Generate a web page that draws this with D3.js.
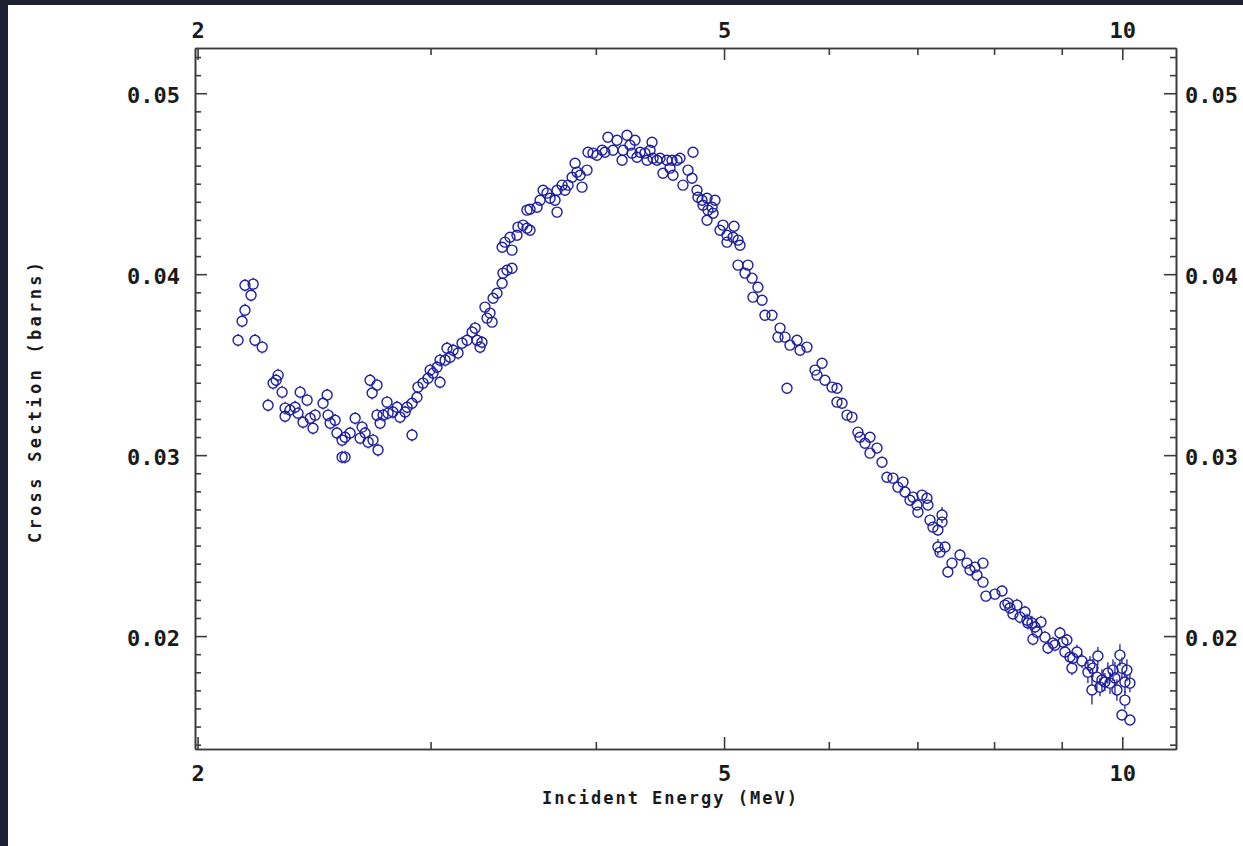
<!DOCTYPE html>
<html><head><meta charset="utf-8">
<script src="https://cdn.jsdelivr.net/npm/d3@7"></script>
<style>
html,body{margin:0;padding:0;background:#1b2130;overflow:hidden}
svg{display:block}
text{font-family:"DejaVu Sans Mono",monospace;font-weight:bold;fill:#1a1a1a}
</style></head><body>
<svg id="c" width="1243" height="846"></svg>
<script>
const energy=[
2.146,2.161,2.172,2.172,2.195,2.203,2.210,2.238,2.261,2.281,
2.293,2.301,2.317,2.329,2.329,2.349,2.370,2.382,2.391,2.403,
2.420,2.433,2.445,2.454,2.488,2.506,2.510,2.519,2.541,2.549,
2.572,2.572,2.585,2.585,2.608,2.631,2.654,2.663,2.677,2.691,
2.700,2.710,2.714,2.733,2.733,2.738,2.748,2.762,2.781,2.786,
2.810,2.830,2.845,2.870,2.880,2.905,2.905,2.930,2.935,2.961,
2.987,2.998,3.013,3.034,3.050,3.050,3.077,3.087,3.104,3.120,
3.147,3.169,3.197,3.225,3.242,3.253,3.270,3.281,
3.298,3.310,3.327,3.339,3.345,3.368,3.398,3.403,3.427,3.457,
3.398,3.415,3.445,3.457,3.487,3.493,3.524,3.548,3.567,3.548,
3.567,3.611,3.630,3.649,3.674,3.694,3.726,3.739,3.739,3.772,
3.791,3.811,3.838,3.858,3.871,3.892,3.905,3.939,3.946,3.980,
4.008,4.044,4.064,4.085,4.121,4.150,4.187,4.194,4.223,4.245,
4.260,4.282,4.297,4.320,4.357,4.373,4.396,4.411,4.419,4.449,
4.473,4.496,4.527,4.551,4.567,4.575,4.607,4.631,4.655,4.696,
4.729,4.737,4.770,4.778,4.812,4.820,4.854,4.862,4.897,4.922,
4.905,4.854,4.965,4.991,5.026,5.088,5.026,5.079,5.123,5.141,
5.123,5.186,5.212,5.250,5.304,5.258,5.342,5.369,5.435,5.512,
5.492,5.560,5.608,5.677,5.707,5.776,5.579,5.858,5.878,5.930,
5.960,6.034,6.086,6.086,6.140,6.193,6.247,6.312,6.335,6.390,
6.446,6.446,6.525,6.582,6.639,6.709,6.767,6.827,6.851,6.911,
6.947,6.995,7.007,7.057,7.118,7.130,7.156,7.193,7.255,7.307,
7.307,7.255,7.345,7.281,7.382,7.435,7.539,7.631,7.671,7.738,
7.765,7.847,7.847,7.887,8.012,8.111,8.153,8.195,8.224,8.267,
8.325,8.369,8.442,8.471,8.485,8.545,8.590,8.560,8.619,8.680,
8.741,8.786,8.863,8.894,8.972,9.019,9.081,9.050,9.130,9.177,
9.241,9.161,9.322,9.453,9.419,9.502,9.486,9.568,9.584,9.619,
9.652,9.702,9.752,9.788,9.839,9.873,9.907,9.959,9.994,10.046,
10.081,10.134,10.046,9.994,10.134];

const crossSection=[
0.03635,0.03740,0.03801,0.03939,0.03884,0.03945,0.03635,0.03597,0.03276,0.03398,
0.03414,0.03442,0.03348,0.03260,0.03215,0.03249,0.03265,0.03232,0.03348,0.03182,
0.03304,0.03204,0.03149,0.03221,0.03287,0.03332,0.03221,0.03177,0.03193,0.03122,
0.03083,0.02989,0.03099,0.02989,0.03122,0.03204,0.03094,0.03155,0.03122,0.03072,
0.03414,0.03343,0.03083,0.03387,0.03221,0.03028,0.03177,0.03221,0.03293,0.03232,
0.03238,0.03265,0.03210,0.03238,0.03265,0.03287,0.03111,0.03320,0.03376,0.03398,
0.03425,0.03470,0.03453,0.03486,0.03525,0.03403,0.03525,0.03591,0.03541,0.03580,
0.03564,0.03619,0.03635,0.03680,0.03702,0.03635,0.03597,0.03624,
0.03818,0.03757,0.03785,0.03735,0.03867,0.03895,0.03950,0.04006,0.04022,0.04033,
0.04149,0.04177,0.04204,0.04133,0.04215,0.04260,0.04271,0.04254,0.04243,0.04354,
0.04359,0.04370,0.04409,0.04464,0.04448,0.04420,0.04409,0.04343,0.04464,0.04492,
0.04464,0.04492,0.04536,0.04613,0.04564,0.04547,0.04481,0.04575,0.04674,0.04669,
0.04657,0.04685,0.04674,0.04757,0.04685,0.04740,0.04630,0.04685,0.04768,0.04713,
0.04669,0.04740,0.04646,0.04674,0.04669,0.04630,0.04685,0.04729,0.04641,0.04630,
0.04641,0.04558,0.04630,0.04586,0.04630,0.04547,0.04630,0.04641,0.04492,0.04575,
0.04530,0.04674,0.04464,0.04425,0.04409,0.04381,0.04420,0.04354,0.04370,0.04409,
0.04337,0.04298,0.04243,0.04271,0.04215,0.04265,0.04177,0.04204,0.04188,0.04160,
0.04050,0.04006,0.04050,0.03978,0.03928,0.03873,0.03856,0.03773,0.03773,0.03702,
0.03652,0.03652,0.03608,0.03635,0.03580,0.03597,0.03370,0.03470,0.03442,0.03508,
0.03414,0.03376,0.03370,0.03293,0.03287,0.03221,0.03210,0.03127,0.03099,0.03066,
0.03099,0.03011,0.03039,0.02961,0.02878,0.02873,0.02823,0.02851,0.02796,0.02751,
0.02768,0.02724,0.02685,0.02779,0.02762,0.02724,0.02641,0.02602,0.02586,0.02630,
0.02669,0.02492,0.02492,0.02464,0.02354,0.02403,0.02448,0.02403,0.02365,0.02381,
0.02337,0.02403,0.02298,0.02221,0.02232,0.02249,0.02171,0.02182,0.02155,0.02122,
0.02171,0.02105,0.02133,0.02088,0.02072,0.02072,0.02050,0.01983,0.02022,0.02077,
0.01994,0.01934,0.01961,0.01950,0.02017,0.01967,0.01978,0.01912,0.01884,0.01878,
0.01912,0.01823,0.01862,0.01840,0.01801,0.01823,0.01702,0.01773,0.01890,0.01718,
0.01757,0.01746,0.01796,0.01740,0.01812,0.01768,0.01702,0.01895,0.01823,0.01746,
0.01812,0.01740,0.01646,0.01564,0.01536];

const errors=[
0.00035,0.00035,0.00035,0.00035,0.00035,0.00035,0.00035,0.00035,0.00035,0.00035,
0.00035,0.00035,0.00035,0.00035,0.00035,0.00035,0.00035,0.00035,0.00035,0.00035,
0.00035,0.00035,0.00035,0.00035,0.00035,0.00035,0.00035,0.00035,0.00035,0.00035,
0.00035,0.00035,0.00035,0.00035,0.00035,0.00035,0.00035,0.00035,0.00035,0.00035,
0.00035,0.00035,0.00035,0.00035,0.00035,0.00035,0.00035,0.00035,0.00035,0.00035,
0.00035,0.00035,0.00035,0.00035,0.00035,0.00035,0.00035,0.00035,0.00035,0.00035,
0.00035,0.00035,0.00035,0.00035,0.00035,0.00035,0.00035,0.00035,0.00035,0.00035,
0.00035,0.00035,0.00035,0.00035,0.00035,0.00035,0.00035,0.00035,
0.00025,0.00025,0.00025,0.00025,0.00025,0.00025,0.00025,0.00025,0.00025,0.00025,
0.00025,0.00025,0.00025,0.00025,0.00025,0.00025,0.00025,0.00025,0.00025,0.00025,
0.00025,0.00025,0.00025,0.00025,0.00025,0.00025,0.00025,0.00025,0.00025,0.00025,
0.00025,0.00025,0.00025,0.00025,0.00025,0.00025,0.00025,0.00025,0.00025,0.00025,
0.00025,0.00025,0.00025,0.00025,0.00025,0.00025,0.00025,0.00025,0.00025,0.00025,
0.00025,0.00025,0.00025,0.00025,0.00025,0.00025,0.00025,0.00025,0.00025,0.00025,
0.00025,0.00025,0.00025,0.00025,0.00025,0.00025,0.00025,0.00025,0.00025,0.00025,
0.00025,0.00025,0.00025,0.00025,0.00025,0.00025,0.00025,0.00025,0.00025,0.00025,
0.00025,0.00025,0.00025,0.00025,0.00025,0.00025,0.00025,0.00025,0.00025,0.00025,
0.00025,0.00025,0.00025,0.00025,0.00025,0.00025,0.00025,0.00025,0.00025,0.00025,
0.00025,0.00025,0.00025,0.00025,0.00025,0.00025,0.00025,0.00025,0.00025,0.00025,
0.00025,0.00025,0.00025,0.00025,0.00025,0.00025,0.00025,0.00025,0.00025,0.00025,
0.00025,0.00025,0.0003,0.0003,0.0003,0.0003,0.0003,0.0003,0.0003,0.0003,
0.0003,0.0003,0.0003,0.0003,0.0003,0.0003,0.0003,0.0003,0.0003,0.0003,
0.00045,0.00045,0.0003,0.0003,0.0003,0.0003,0.0003,0.0003,0.0003,0.0003,
0.0003,0.0003,0.0003,0.0003,0.0003,0.0003,0.0003,0.0003,0.0003,0.0003,
0.00035,0.00035,0.00035,0.00035,0.00035,0.0004,0.00035,0.00035,0.00035,0.00035,
0.00035,0.00035,0.00035,0.00035,0.00035,0.00035,0.00035,0.00035,0.00035,0.00035,
0.0004,0.0004,0.0004,0.0005,0.0006,0.0005,0.0008,0.0006,0.0005,0.0005,
0.0006,0.0005,0.0006,0.0006,0.0006,0.0009,0.0006,0.0006,0.0006,0.0006,
0.0006,0.0005,0.0005];

const xMajorTicks=[2,5,10];
const xMinorTicks=[3,4,6,7,8,9];
const yMajorTicks=[0.02,0.03,0.04,0.05];
const yMinorTicks=[0.014,0.015,0.016,0.017,0.018,0.019,0.021,0.022,0.023,0.024,0.025,0.026,0.027,0.028,0.029,
0.031,0.032,0.033,0.034,0.035,0.036,0.037,0.038,0.039,0.041,0.042,0.043,0.044,0.045,0.046,0.047,0.048,0.049,0.051,0.052];
const xTitle="Incident Energy (MeV)";
const yTitle="Cross Section (barns)";

const svg=d3.select("#c");
svg.append("rect").attr("x",8).attr("y",5).attr("width",1235).attr("height",841).attr("fill","#ffffff");

const L=195,R=1176,T=48,B=749;
const x=d3.scaleLog().domain([1.991,10.98]).range([L,R]);
const y=d3.scaleLinear().domain([0.01376,0.0525]).range([B,T]);
const axisColor="#3c3c3c";

function style(g){
  g.selectAll("path,line").attr("stroke",axisColor).attr("stroke-width",1.6);
  g.selectAll("text").attr("fill","#1a1a1a").attr("font-size",22).attr("font-family",null);
}
const fmtX=d3.format("d");
const fmtY=d=>d.toFixed(2);

// bottom
svg.append("g").attr("transform",`translate(0,${B})`)
  .call(d3.axisBottom(x).tickValues(xMajorTicks).tickFormat(fmtX).tickSizeInner(-12).tickSizeOuter(0).tickPadding(16)).call(style);
svg.append("g").attr("transform",`translate(0,${B})`)
  .call(d3.axisBottom(x).tickValues(xMinorTicks).tickFormat("").tickSizeInner(-7).tickSizeOuter(0)).call(style);
// top
svg.append("g").attr("transform",`translate(0,${T})`)
  .call(d3.axisTop(x).tickValues(xMajorTicks).tickFormat(fmtX).tickSizeInner(-12).tickSizeOuter(0).tickPadding(10)).call(style);
svg.append("g").attr("transform",`translate(0,${T})`)
  .call(d3.axisTop(x).tickValues(xMinorTicks).tickFormat("").tickSizeInner(-7).tickSizeOuter(0)).call(style);
// left
const gl=svg.append("g").attr("transform",`translate(${L},0)`)
  .call(d3.axisLeft(y).tickValues(yMajorTicks).tickFormat(fmtY).tickSizeInner(-12).tickSizeOuter(0).tickPadding(15)).call(style);
gl.selectAll("text").attr("dy","0.41em");
svg.append("g").attr("transform",`translate(${L},0)`)
  .call(d3.axisLeft(y).tickValues(yMinorTicks).tickFormat("").tickSizeInner(-6).tickSizeOuter(0)).call(style);
// right
const gr=svg.append("g").attr("transform",`translate(${R},0)`)
  .call(d3.axisRight(y).tickValues(yMajorTicks).tickFormat(fmtY).tickSizeInner(-12).tickSizeOuter(0).tickPadding(9)).call(style);
gr.selectAll("text").attr("dy","0.41em");
svg.append("g").attr("transform",`translate(${R},0)`)
  .call(d3.axisRight(y).tickValues(yMinorTicks).tickFormat("").tickSizeInner(-6).tickSizeOuter(0)).call(style);

// titles
svg.append("text").attr("x",542).attr("y",804).attr("font-size",17).attr("letter-spacing","2px").text(xTitle);
svg.append("text").attr("transform","translate(41,543) rotate(-90)").attr("font-size",17).attr("letter-spacing","3.3px").text(yTitle);

// data
const pts=energy.map((e,i)=>({e,v:crossSection[i],err:errors[i]}));
const r=5, col="#1f1f9e";
const eg=svg.append("g").attr("stroke",col).attr("stroke-width",1.3);
pts.forEach(p=>{
  const cx=x(p.e), cy=y(p.v), top=y(p.v+p.err), bot=y(p.v-p.err);
  if(cy-top>r) eg.append("line").attr("x1",cx).attr("x2",cx).attr("y1",top).attr("y2",cy-r);
  if(bot-cy>r) eg.append("line").attr("x1",cx).attr("x2",cx).attr("y1",cy+r).attr("y2",bot);
});
svg.append("g").selectAll("circle").data(pts).join("circle")
  .attr("cx",d=>x(d.e)).attr("cy",d=>y(d.v)).attr("r",r)
  .attr("fill","none").attr("stroke",col).attr("stroke-width",1.4);
</script></body></html>
